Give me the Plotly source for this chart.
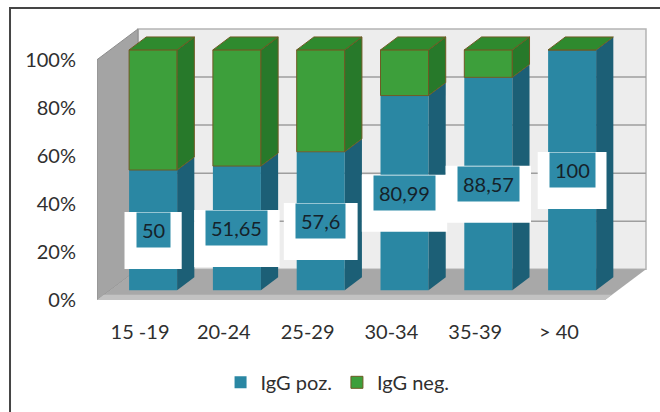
import plotly.graph_objects as go

# --- data -------------------------------------------------------------
age_groups = ["15 -19", "20-24", "25-29", "30-34", "35-39", "> 40"]
igg_pos = [50, 51.65, 57.6, 80.99, 88.57, 100]
igg_neg = [50, 48.35, 42.4, 19.01, 11.43, 0]
pct_ticks = [0, 20, 40, 60, 80, 100]
pct_labels = ["0%", "20%", "40%", "60%", "80%", "100%"]

# --- colours ------------------------------------------------------------
TEAL = "#2a87a3"
TEAL_SIDE = "#1c5f76"
GREEN = "#3d9f3b"
GREEN_SIDE = "#27792a"
GREEN_TOP = "#2f8a2e"
GREEN_EDGE = "#6f5a24"
LABEL_BG = "#2e8ba8"
TEXT = "#2f2f2f"
FONT = "Lato"
FONT_SIZE = 20

# --- 3-D box geometry (axis units) -------------------------------------
DEPTH_X, DEPTH_Y = 0.489, 12.8      # floor front edge -> back wall
BAR_FRONT, BAR_DEPTH = 0.32, 0.42   # bar front plane / bar thickness (fraction of depth)
BAR_W = 0.573
X_LO, X_HI = -0.513, 5.549          # floor extent at the front edge
TOP = 100

bfx, bfy = BAR_FRONT * DEPTH_X, BAR_FRONT * DEPTH_Y
bdx, bdy = BAR_DEPTH * DEPTH_X, BAR_DEPTH * DEPTH_Y

xs_idx = list(range(len(age_groups)))


def face(pts, fill, edge=None, width=0):
    xs = [p[0] for p in pts] + [pts[0][0]]
    ys = [p[1] for p in pts] + [pts[0][1]]
    return go.Scatter(
        x=xs, y=ys, mode="lines", fill="toself", fillcolor=fill,
        line=dict(color=edge or fill, width=width),
        hoverinfo="skip", showlegend=False,
    )


fig = go.Figure()

# front faces of the stacked bars
fig.add_trace(go.Bar(
    name="IgG poz.", x=xs_idx, y=igg_pos, base=[bfy] * len(igg_pos),
    width=BAR_W, offset=bfx - BAR_W / 2,
    marker=dict(color=TEAL, line=dict(color=TEAL, width=0)),
))
fig.add_trace(go.Bar(
    name="IgG neg.", x=xs_idx, y=igg_neg,
    base=[bfy + p for p in igg_pos],
    width=BAR_W, offset=bfx - BAR_W / 2,
    marker=dict(color=GREEN, line=dict(color=GREEN_EDGE, width=1)),
))

# side and top faces of each bar
for i, (p, n) in enumerate(zip(igg_pos, igg_neg)):
    cx = i + bfx
    xl, xr = cx - BAR_W / 2, cx + BAR_W / 2
    y0 = bfy
    y1 = bfy + p
    y2 = bfy + p + n
    fig.add_trace(face([(xr, y0), (xr + bdx, y0 + bdy), (xr + bdx, y1 + bdy), (xr, y1)],
                       TEAL_SIDE))
    if n > 0:
        fig.add_trace(face([(xr, y1), (xr + bdx, y1 + bdy), (xr + bdx, y2 + bdy), (xr, y2)],
                           GREEN_SIDE, GREEN_EDGE, 1))
    fig.add_trace(face([(xl, y2), (xr, y2), (xr + bdx, y2 + bdy), (xl + bdx, y2 + bdy)],
                       GREEN_TOP, GREEN_EDGE, 1))

# walls, floor and back-wall gridlines
shapes = []


def path(pts):
    return "M " + " L ".join(f"{x},{y}" for x, y in pts) + " Z"


bx0, bx1 = X_LO + DEPTH_X, X_HI + DEPTH_X
shapes.append(dict(type="path", layer="below", xref="x", yref="y",
                   path=path([(bx0, DEPTH_Y), (bx1, DEPTH_Y), (bx1, TOP + DEPTH_Y), (bx0, TOP + DEPTH_Y)]),
                   fillcolor="#ededed", line=dict(color="#b4b4b4", width=1.5)))
for v in pct_ticks[1:-1]:
    shapes.append(dict(type="line", layer="below", xref="x", yref="y",
                       x0=bx0, x1=bx1, y0=v + DEPTH_Y, y1=v + DEPTH_Y,
                       line=dict(color="#9e9e9e", width=1.5)))
shapes.append(dict(type="path", layer="below", xref="x", yref="y",
                   path=path([(X_LO, 0), (bx0, DEPTH_Y), (bx0, TOP + DEPTH_Y), (X_LO, TOP)]),
                   fillcolor="#a4a4a4", line=dict(color="#8c8c8c", width=1)))
shapes.append(dict(type="path", layer="below", xref="x", yref="y",
                   path=path([(X_LO, 0), (X_HI, 0), (bx1, DEPTH_Y), (bx0, DEPTH_Y)]),
                   fillcolor="#a8a8a8", line=dict(color="#a8a8a8", width=0)))
shapes.append(dict(type="path", layer="below", xref="x", yref="y",
                   path=path([(X_LO, 0), (X_HI, 0), (X_HI + 0.08, 2.2), (X_LO + 0.08, 2.2)]),
                   fillcolor="#c2c2c2", line=dict(width=0)))

# value labels: a white plate behind a teal tag, centred on the teal segment
annotations = []
for i, p in enumerate(igg_pos):
    txt = f"{p:g}".replace(".", ",")
    text_w = sum(5.0 if ch == "," else 11.6 for ch in txt)
    half_w = text_w / 2 + 5 + 12
    shapes.append(dict(type="rect", xref="x", yref="y",
                       xsizemode="pixel", ysizemode="pixel",
                       xanchor=i + bfx, yanchor=bfy + p / 2,
                       x0=-half_w, x1=half_w, y0=-39, y1=18,
                       fillcolor="white", line=dict(width=0), layer="above"))
    annotations.append(dict(x=i + bfx, y=bfy + p / 2, xref="x", yref="y", text=txt,
                            showarrow=False,
                            font=dict(family=FONT, size=FONT_SIZE, color="#15222a"),
                            bgcolor=LABEL_BG, borderpad=5))

# outer frame
shapes.append(dict(type="rect", xref="paper", yref="paper",
                   x0=-0.1573, x1=1.05, y0=-0.45, y1=1.0426,
                   line=dict(color="#454545", width=2), fillcolor="rgba(0,0,0,0)"))

fig.update_layout(
    width=660, height=412,
    margin=dict(l=97, r=10, t=20, b=110),
    paper_bgcolor="white", plot_bgcolor="rgba(0,0,0,0)",
    barmode="overlay",
    shapes=shapes, annotations=annotations,
    font=dict(family=FONT, size=FONT_SIZE, color=TEXT),
    showlegend=True,
    legend=dict(orientation="h", x=0.435, xanchor="center", y=-0.294, yanchor="middle",
                font=dict(family=FONT, size=FONT_SIZE, color=TEXT), bgcolor="rgba(0,0,0,0)"),
    xaxis=dict(range=[-0.5131, 6.0859], tickvals=xs_idx, ticktext=age_groups,
               showgrid=False, zeroline=False, showline=False,
               ticks="outside", ticklen=14, tickcolor="rgba(0,0,0,0)", fixedrange=True),
    yaxis=dict(range=[0, 116.53], tickvals=pct_ticks, ticktext=pct_labels,
               showgrid=False, zeroline=False, showline=False,
               ticks="outside", ticklen=16, tickcolor="rgba(0,0,0,0)", fixedrange=True),
)

fig.write_html("out.html")
